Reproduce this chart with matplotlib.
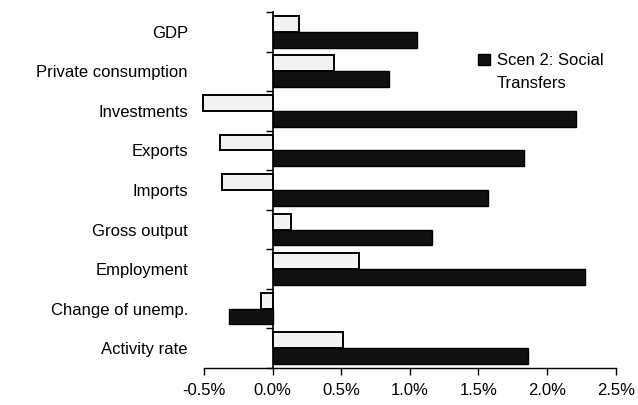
import numpy as np
import matplotlib.pyplot as plt
from matplotlib.ticker import FuncFormatter

plt.rcParams['font.family'] = ['Liberation Sans', 'DejaVu Sans']

categories = ['GDP', 'Private consumption', 'Investments', 'Exports', 'Imports',
              'Gross output', 'Employment', 'Change of unemp.', 'Activity rate']
# percent change vs. baseline
scen1 = [0.19, 0.45, -0.51, -0.385, -0.367, 0.134, 0.63, -0.088, 0.51]
scen2 = [1.055, 0.85, 2.21, 1.83, 1.567, 1.158, 2.28, -0.32, 1.86]
scen2_label = ['Scen 2: Social', 'Transfers']

fs = 12
fig = plt.figure(figsize=(6.38, 4.05), dpi=100)
ax = fig.add_axes([0.3197, 0.0914, 0.6453, 0.879])

y = np.arange(len(categories))
h = 0.4
ax.barh(y - h / 2, scen1, height=h, color='#f2f2f2', edgecolor='black', linewidth=1.4,
        clip_on=False)
ax.barh(y + h / 2, scen2, height=h, color='#111111', edgecolor='black', linewidth=1.0,
        label=scen2_label[0])

xmin, xmax = -0.5, 2.5
ax.set_xlim(xmin, xmax)
ax.set_ylim(len(categories) - 0.5, -0.5)
ax.set_xticks(np.arange(-0.5, 2.51, 0.5))
ax.xaxis.set_major_formatter(FuncFormatter(lambda v, p: f'{v:.1f}%'))
ax.tick_params(axis='x', direction='out', length=5, width=1, labelsize=fs, pad=6)

ax.set_yticks(y)
ax.set_yticklabels(categories, fontsize=fs)
ax.tick_params(axis='y', length=0, pad=11.5)

for s in ['top', 'right', 'left']:
    ax.spines[s].set_visible(False)
ax.spines['bottom'].set_linewidth(1.0)

# category axis drawn through zero with boundary ticks
zero_ax = ax.secondary_yaxis((0 - xmin) / (xmax - xmin))
zero_ax.set_yticks(np.arange(-0.5, len(categories), 1.0))
zero_ax.tick_params(direction='out', length=5, width=1, labelleft=False)
zero_ax.spines['left'].set_linewidth(1.2)

leg = ax.legend(loc='upper left', bbox_to_anchor=(0.646, 0.907), frameon=False, fontsize=fs,
                handlelength=0.7, handleheight=0.7, handletextpad=0.4, borderpad=0)
# second line of the legend label, hung under the first
ax.annotate(scen2_label[1], xy=(0, 0.5), xycoords=leg.get_texts()[0],
            xytext=(0, -16), textcoords='offset points', va='center', ha='left',
            fontsize=fs, zorder=6)

fig.savefig('out.png', dpi=100)
